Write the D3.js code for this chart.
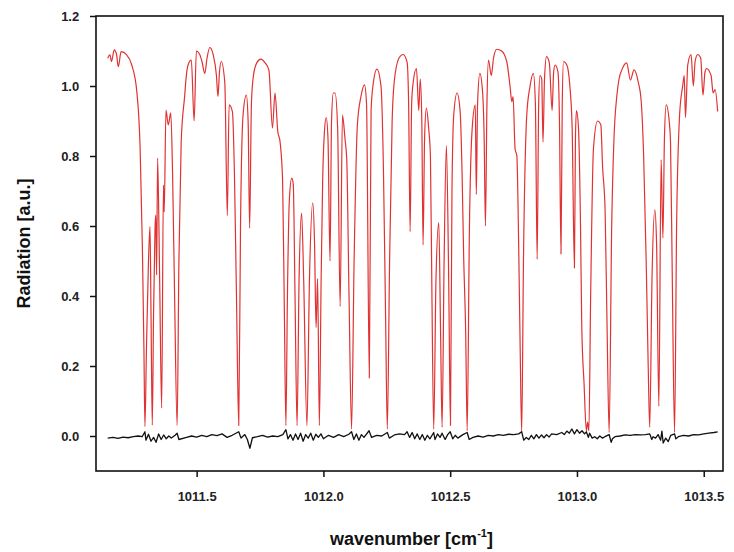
<!DOCTYPE html>
<html>
<head>
<meta charset="utf-8">
<script src="https://cdn.jsdelivr.net/npm/d3@7"></script>
<style>
  html, body { margin: 0; padding: 0; background: #fff; }
  svg { display: block; }
  text { font-family: "Liberation Sans", Arial, sans-serif; }
</style>
</head>
<body>
<svg id="chart" width="734" height="552"></svg>
<script>
// ---- data ----
const xTicks = [1011.5, 1012.0, 1012.5, 1013.0, 1013.5];
const yTicks = [0.0, 0.2, 0.4, 0.6, 0.8, 1.0, 1.2];

const wavenumber = [1011.149,1011.158,1011.164,1011.175,1011.184,1011.191,1011.202,1011.224,1011.244,1011.264,1011.277,1011.286,1011.292,1011.296,1011.302,1011.310,1011.316,1011.320,1011.325,1011.330,1011.336,1011.339,1011.342,1011.346,1011.354,1011.362,1011.369,1011.372,1011.379,1011.388,1011.398,1011.405,1011.413,1011.423,1011.430,1011.439,1011.453,1011.458,1011.466,1011.479,1011.490,1011.499,1011.512,1011.521,1011.532,1011.541,1011.552,1011.565,1011.578,1011.584,1011.590,1011.597,1011.611,1011.621,1011.628,1011.641,1011.649,1011.657,1011.666,1011.673,1011.683,1011.696,1011.703,1011.709,1011.716,1011.724,1011.737,1011.753,1011.770,1011.785,1011.799,1011.809,1011.820,1011.829,1011.839,1011.846,1011.852,1011.858,1011.866,1011.875,1011.881,1011.888,1011.896,1011.904,1011.914,1011.922,1011.935,1011.945,1011.958,1011.965,1011.971,1011.977,1011.984,1011.991,1011.997,1012.004,1012.011,1012.018,1012.026,1012.032,1012.039,1012.046,1012.056,1012.066,1012.075,1012.085,1012.092,1012.101,1012.111,1012.121,1012.134,1012.148,1012.162,1012.170,1012.181,1012.188,1012.197,1012.211,1012.227,1012.237,1012.245,1012.252,1012.261,1012.271,1012.279,1012.298,1012.314,1012.330,1012.336,1012.342,1012.348,1012.354,1012.367,1012.376,1012.382,1012.388,1012.393,1012.399,1012.406,1012.415,1012.422,1012.428,1012.435,1012.444,1012.455,1012.462,1012.468,1012.476,1012.485,1012.494,1012.501,1012.507,1012.514,1012.527,1012.539,1012.547,1012.553,1012.561,1012.567,1012.576,1012.586,1012.599,1012.603,1012.608,1012.617,1012.628,1012.634,1012.639,1012.645,1012.651,1012.662,1012.671,1012.684,1012.703,1012.723,1012.736,1012.743,1012.748,1012.756,1012.763,1012.770,1012.776,1012.782,1012.789,1012.802,1012.815,1012.828,1012.836,1012.843,1012.849,1012.854,1012.861,1012.866,1012.872,1012.880,1012.891,1012.902,1012.908,1012.914,1012.925,1012.931,1012.937,1012.942,1012.947,1012.960,1012.972,1012.981,1012.990,1012.994,1012.998,1013.006,1013.014,1013.019,1013.028,1013.037,1013.042,1013.047,1013.054,1013.065,1013.081,1013.094,1013.101,1013.111,1013.119,1013.127,1013.137,1013.146,1013.157,1013.166,1013.177,1013.196,1013.211,1013.225,1013.242,1013.253,1013.263,1013.273,1013.281,1013.287,1013.296,1013.307,1013.314,1013.323,1013.332,1013.339,1013.345,1013.352,1013.365,1013.369,1013.376,1013.385,1013.393,1013.405,1013.417,1013.423,1013.428,1013.437,1013.450,1013.459,1013.466,1013.476,1013.488,1013.497,1013.505,1013.511,1013.529,1013.537,1013.545,1013.555];

const radiation = [1.079,1.089,1.07,1.103,1.09,1.055,1.098,1.089,1.06,0.984,0.823,0.537,0.25,0.027,0.25,0.5,0.598,0.35,0.031,0.35,0.6,0.631,0.46,0.794,0.45,0.08,0.717,0.64,0.931,0.889,0.923,0.75,0.4,0.03,0.5,0.84,0.974,1.02,1.06,1.074,0.90,1.10,1.09,1.07,1.036,1.08,1.11,1.09,1.03,0.97,1.04,1.07,1.01,0.63,0.946,0.927,0.75,0.4,0.03,0.6,0.917,0.974,0.9,0.594,0.95,1.03,1.066,1.077,1.066,1.045,0.88,0.98,0.87,0.84,0.73,0.35,0.03,0.4,0.68,0.737,0.72,0.4,0.03,0.45,0.637,0.45,0.03,0.45,0.666,0.55,0.31,0.45,0.03,0.45,0.73,0.87,0.91,0.85,0.50,0.9,0.98,0.98,0.88,0.37,0.917,0.85,0.79,0.4,0.02,0.5,0.89,0.97,1.003,0.95,0.166,0.93,1.01,1.048,1.0,0.75,0.35,0.02,0.5,0.9,1.01,1.08,1.09,1.068,0.95,0.584,0.95,1.01,1.05,0.93,1.02,0.9,0.546,0.85,0.937,0.88,0.80,0.4,0.02,0.45,0.61,0.3,0.025,0.5,0.83,0.45,0.03,0.7,0.917,0.98,0.93,0.746,0.517,0.3,0.015,0.6,0.87,0.946,0.69,0.95,1.036,0.98,0.85,0.60,0.95,1.074,1.03,1.08,1.105,1.10,1.07,1.0,0.955,0.97,0.82,0.80,0.55,0.25,0.01,0.5,0.917,1.0,1.036,0.95,0.505,0.95,1.03,1.02,0.84,1.02,1.084,1.066,0.93,1.04,1.06,1.04,0.9,0.52,0.95,1.07,1.06,1.00,0.88,0.48,0.85,0.93,0.88,0.6,0.31,0.15,0.015,0.04,0.015,0.4,0.82,0.90,0.89,0.77,0.646,0.3,0.01,0.6,0.85,0.97,1.02,1.046,1.066,1.017,1.046,1.01,0.96,0.8,0.5,0.2,0.025,0.45,0.646,0.55,0.085,0.79,0.566,0.85,0.946,0.89,0.84,0.45,0.01,0.6,0.92,1.0,1.03,0.91,1.06,1.09,1.0,1.07,1.09,1.08,0.974,1.04,1.05,1.03,0.98,0.99,0.927];

// residual (black) trace: [wavenumber, value]
const residual = [[1011.149,-0.006],[1011.17,-0.004],[1011.19,-0.007],[1011.21,-0.003],[1011.23,-0.005],[1011.25,-0.002],[1011.27,0.0],[1011.285,-0.002],[1011.296,0.012],[1011.30,-0.012],[1011.31,0.005],[1011.32,-0.015],[1011.33,-0.004],[1011.34,-0.018],[1011.35,0.006],[1011.36,-0.01],[1011.37,0.003],[1011.38,-0.008],[1011.39,0.0],[1011.40,-0.006],[1011.415,0.002],[1011.423,0.008],[1011.43,-0.01],[1011.46,-0.004],[1011.48,0.0],[1011.50,-0.003],[1011.52,0.002],[1011.54,-0.002],[1011.56,0.004],[1011.58,0.001],[1011.60,0.006],[1011.62,-0.004],[1011.64,0.002],[1011.666,0.012],[1011.675,-0.006],[1011.69,0.004],[1011.70,-0.01],[1011.71,-0.035],[1011.72,-0.005],[1011.74,-0.002],[1011.76,0.002],[1011.78,-0.003],[1011.80,0.0],[1011.82,-0.002],[1011.84,0.004],[1011.852,0.018],[1011.86,-0.008],[1011.87,0.004],[1011.88,-0.012],[1011.89,0.006],[1011.90,-0.01],[1011.91,0.008],[1011.92,-0.015],[1011.93,0.004],[1011.94,-0.006],[1011.95,0.008],[1011.96,-0.012],[1011.97,0.005],[1011.98,-0.004],[1011.99,0.006],[1012.00,-0.008],[1012.02,0.002],[1012.04,-0.004],[1012.06,0.004],[1012.08,-0.002],[1012.10,0.005],[1012.111,0.012],[1012.12,-0.01],[1012.13,0.006],[1012.14,-0.012],[1012.15,0.004],[1012.16,-0.004],[1012.18,0.015],[1012.19,-0.004],[1012.21,0.002],[1012.23,0.0],[1012.252,0.01],[1012.26,-0.006],[1012.28,0.003],[1012.30,0.006],[1012.32,0.004],[1012.33,0.012],[1012.34,-0.004],[1012.35,0.01],[1012.36,-0.008],[1012.37,0.006],[1012.38,-0.01],[1012.39,0.004],[1012.40,-0.012],[1012.41,0.002],[1012.42,-0.008],[1012.435,0.01],[1012.44,-0.01],[1012.45,0.006],[1012.46,-0.004],[1012.468,0.008],[1012.48,-0.01],[1012.49,0.004],[1012.50,0.012],[1012.51,-0.008],[1012.52,0.002],[1012.53,-0.006],[1012.55,0.004],[1012.567,0.01],[1012.575,-0.01],[1012.59,-0.004],[1012.61,0.0],[1012.63,-0.003],[1012.65,0.002],[1012.67,0.0],[1012.69,0.004],[1012.71,0.002],[1012.73,0.005],[1012.75,0.004],[1012.77,0.006],[1012.782,0.012],[1012.79,-0.012],[1012.80,-0.004],[1012.81,-0.01],[1012.82,0.002],[1012.83,-0.008],[1012.84,0.004],[1012.85,-0.006],[1012.86,0.003],[1012.87,-0.005],[1012.88,0.004],[1012.89,-0.003],[1012.90,0.006],[1012.92,0.004],[1012.94,0.01],[1012.95,0.004],[1012.96,0.014],[1012.97,0.008],[1012.98,0.02],[1012.99,0.006],[1013.00,0.018],[1013.01,0.008],[1013.02,0.015],[1013.03,0.006],[1013.037,0.012],[1013.045,-0.004],[1013.05,0.008],[1013.06,-0.006],[1013.07,-0.002],[1013.08,-0.008],[1013.09,0.0],[1013.10,-0.006],[1013.11,-0.002],[1013.127,0.004],[1013.135,-0.018],[1013.14,-0.008],[1013.15,-0.002],[1013.17,0.0],[1013.19,0.003],[1013.21,0.002],[1013.23,0.004],[1013.25,0.003],[1013.27,0.004],[1013.287,0.006],[1013.295,-0.01],[1013.30,-0.002],[1013.31,-0.006],[1013.32,0.004],[1013.33,-0.012],[1013.335,0.014],[1013.34,-0.02],[1013.35,-0.006],[1013.36,-0.016],[1013.37,0.002],[1013.385,0.006],[1013.39,-0.008],[1013.40,-0.002],[1013.42,0.002],[1013.44,0.0],[1013.46,0.004],[1013.48,0.003],[1013.50,0.006],[1013.52,0.008],[1013.54,0.01],[1013.555,0.012]];

// ---- layout ----
const plot = { left: 96, right: 723, top: 16, bottom: 471 };
const svg = d3.select("#chart");

const x = d3.scaleLinear().domain([1011.103, 1013.576]).range([plot.left, plot.right]);
const y = d3.scaleLinear().domain([-0.1, 1.2]).range([plot.bottom, plot.top]);

const spectrum = d3.zip(wavenumber, radiation);

const clip = svg.append("clipPath").attr("id", "plotclip")
  .append("rect").attr("x", plot.left).attr("y", plot.top)
  .attr("width", plot.right - plot.left).attr("height", plot.bottom - plot.top);

const g = svg.append("g").attr("clip-path", "url(#plotclip)");

g.append("path")
  .datum(spectrum)
  .attr("fill", "none")
  .attr("stroke", "#e03232")
  .attr("stroke-width", 1.2)
  .attr("stroke-linejoin", "round")
  .attr("d", d3.line().x(d => x(d[0])).y(d => y(d[1])).curve(d3.curveMonotoneX));

g.append("path")
  .datum(residual)
  .attr("fill", "none")
  .attr("stroke", "#111")
  .attr("stroke-width", 1.3)
  .attr("stroke-linejoin", "round")
  .attr("d", d3.line().x(d => x(d[0])).y(d => y(d[1])));

// axes
const xAxis = d3.axisBottom(x).tickValues(xTicks).tickFormat(d3.format(".1f")).tickSize(6).tickSizeOuter(0);
const yAxis = d3.axisLeft(y).tickValues(yTicks).tickFormat(d3.format(".1f")).tickSize(6).tickSizeOuter(0);

const gx = svg.append("g").attr("transform", `translate(0,${plot.bottom})`).call(xAxis);
const gy = svg.append("g").attr("transform", `translate(${plot.left},0)`).call(yAxis);

[gx, gy].forEach(a => {
  a.select(".domain").remove();
  a.selectAll(".tick line").attr("stroke", "#111").attr("stroke-width", 1.5);
  a.selectAll(".tick text").attr("fill", "#222").attr("font-size", 13)
    .attr("font-weight", "bold").attr("font-family", "Liberation Sans, Arial, sans-serif");
});
gx.selectAll(".tick text").attr("dy", "1.6em");
gy.selectAll(".tick text").attr("dx", "-0.6em");

// frame
svg.append("rect")
  .attr("x", plot.left).attr("y", plot.top)
  .attr("width", plot.right - plot.left).attr("height", plot.bottom - plot.top)
  .attr("fill", "none").attr("stroke", "#111").attr("stroke-width", 1.6);

// titles
const xt = svg.append("text")
  .attr("x", (plot.left + plot.right) / 2 + 2).attr("y", 545)
  .attr("text-anchor", "middle").attr("font-size", 18).attr("font-weight", "bold").attr("fill", "#111");
xt.append("tspan").text("wavenumber [cm");
xt.append("tspan").attr("font-size", 11).attr("dy", -8).text("-1");
xt.append("tspan").attr("dy", 8).text("]");

svg.append("text")
  .attr("transform", `translate(30,${(plot.top + plot.bottom) / 2}) rotate(-90)`)
  .attr("text-anchor", "middle").attr("font-size", 18).attr("font-weight", "bold").attr("fill", "#111")
  .text("Radiation [a.u.]");
</script>
</body>
</html>
